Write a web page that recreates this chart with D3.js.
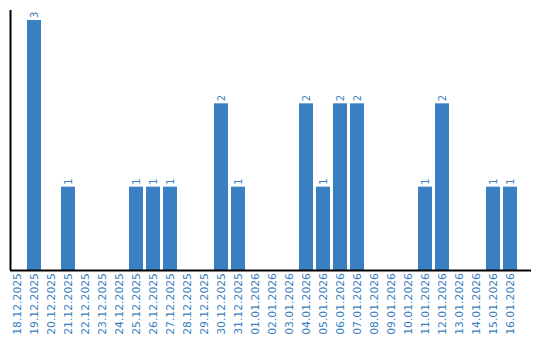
<!DOCTYPE html>
<meta charset="utf-8">
<style>
  html, body { margin: 0; padding: 0; background: #fff; overflow: hidden; }
  text { font-family: "DejaVu Sans", Verdana, sans-serif; fill: #3a7fc1; }
  .bar { fill: #3a7fc1; }
</style>
<body>
<svg width="540" height="340"></svg>
<script src="https://cdn.jsdelivr.net/npm/d3@7"></script>
<script>
  var dates = ["18.12.2025", "19.12.2025", "20.12.2025", "21.12.2025", "22.12.2025",
    "23.12.2025", "24.12.2025", "25.12.2025", "26.12.2025", "27.12.2025",
    "28.12.2025", "29.12.2025", "30.12.2025", "31.12.2025", "01.01.2026",
    "02.01.2026", "03.01.2026", "04.01.2026", "05.01.2026", "06.01.2026",
    "07.01.2026", "08.01.2026", "09.01.2026", "10.01.2026", "11.01.2026",
    "12.01.2026", "13.01.2026", "14.01.2026", "15.01.2026", "16.01.2026"];
  var counts = [0, 3, 0, 1, 0, 0, 0, 1, 1, 1, 0, 0, 2, 1, 0,
    0, 0, 2, 1, 2, 2, 0, 0, 0, 1, 2, 0, 0, 1, 1];

  var data = dates.map(function(d, i) { return {date: d, value: counts[i]}; });

  var plotLeft = 10, plotTop = 20, plotBottom = 270, plotRight = 520;

  var svg = d3.select("svg");

  var x = d3.scaleBand().domain(dates).range([plotLeft, plotRight]).padding(0);
  var barW = x.bandwidth() - 3;
  var y = d3.scaleLinear().domain([0, d3.max(counts)]).range([plotBottom, plotTop]);

  svg.append("g")
    .attr("class", "bars")
    .selectAll("rect")
    .data(data.filter(function(d) { return d.value > 0; }))
    .enter()
    .append("rect")
      .attr("class", "bar")
      .attr("x", function(d) { return x(d.date); })
      .attr("y", function(d) { return y(d.value); })
      .attr("width", barW)
      .attr("height", function(d) { return plotBottom - y(d.value); });

  // value labels, rotated
  svg.append("g")
    .selectAll("text")
    .data(data.filter(function(d) { return d.value > 0; }))
    .enter()
    .append("text")
      .attr("transform", function(d) {
        return "translate(" + (x(d.date) + barW / 2 + 3.5) + "," + (y(d.value) - 2) + ") rotate(-90)";
      })
      .style("font-size", "10px")
      .text(function(d) { return d.value; });

  // x labels
  svg.append("g")
    .selectAll("text")
    .data(dates)
    .enter()
    .append("text")
      .attr("transform", function(d) {
        return "translate(" + (x(d) + barW / 2 + 4) + "," + (plotBottom + 3) + ") rotate(-90)";
      })
      .attr("text-anchor", "end")
      .style("font-size", "10.8px")
      .text(function(d) { return d; });

  // axes lines
  svg.append("line")
    .attr("x1", plotLeft + 0.5).attr("x2", plotLeft + 0.5)
    .attr("y1", 10).attr("y2", plotBottom)
    .attr("stroke", "#000").attr("stroke-width", 2);
  svg.append("line")
    .attr("x1", plotLeft).attr("x2", 531)
    .attr("y1", plotBottom + 0.5).attr("y2", plotBottom + 0.5)
    .attr("stroke", "#000").attr("stroke-width", 2);
</script>
</body>
</html>
